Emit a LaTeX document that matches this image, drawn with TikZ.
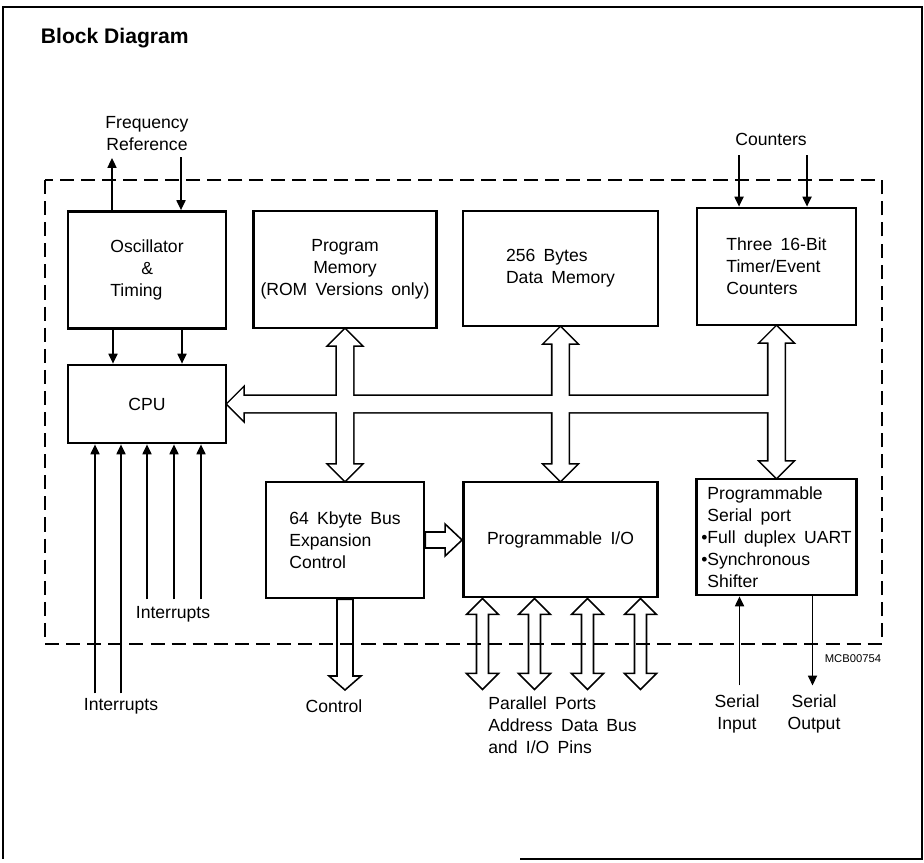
\documentclass[tikz,border=0pt]{standalone}
\usepackage{fontspec}
\setmainfont{Liberation Sans}[WordSpace=1.7]
\newfontfamily\headfont{Liberation Sans}
\usetikzlibrary{arrows.meta,calc,backgrounds}

% hollow bus arrows (picture units = pixels of the sheet)
\newcommand{\dblbus}[3]{(#1) -- ($(#1)+(16,16)$) -- ($(#1)+(#3,16)$) -- ($(#2)+(#3,-16)$)
  -- ($(#2)+(16,-16)$) -- (#2) -- ($(#2)+(-16,-16)$) -- ($(#2)+(-#3,-16)$)
  -- ($(#1)+(-#3,16)$) -- ($(#1)+(-16,16)$) -- cycle}
\newcommand{\downbus}[2]{($(#1)+(-8,0)$) -- ($(#2)+(-8,-14)$) -- ($(#2)+(-16,-14)$) -- (#2)
  -- ($(#2)+(16,-14)$) -- ($(#2)+(8,-14)$) -- ($(#1)+(8,0)$) -- cycle}
\newcommand{\leftbus}[2]{(#1) -- ($(#1)+(16,-16)$) -- ($(#1)+(16,-8)$) -- ($(#2)+(0,-8)$)
  -- ($(#2)+(0,8)$) -- ($(#1)+(16,8)$) -- ($(#1)+(16,16)$) -- cycle}
\newcommand{\rightbus}[2]{($(#1)+(0,-8)$) -- ($(#2)+(-17,-8)$) -- ($(#2)+(-17,-16)$) -- (#2)
  -- ($(#2)+(-17,16)$) -- ($(#2)+(-17,8)$) -- ($(#1)+(0,8)$) -- cycle}

\begin{document}
\begin{tikzpicture}[
  x=0.025cm, y=-0.025cm,
  font=\fontsize{12.5}{15.6}\selectfont, >={Triangle[length=7pt,width=6.5pt]},
  blk/.style={draw, line width=2pt, align=center, inner sep=2pt},
  sig/.style={->, line width=0.9pt},
  busline/.style={line width=2.2pt, line join=miter},
  port/.style={line width=1.1pt, line join=miter},
  cut/.style={line width=0.8pt, dash pattern=on 10pt off 5pt},
  lbl/.style={align=center, inner sep=0pt},
]
\useasboundingbox (0,0) rectangle (924,862);
% sheet frame
\draw[line width=0.8pt] (520,859) -- (922,859) -- (922,7) -- (3,7) -- (3,859);
\node[anchor=west, font=\headfont\bfseries\fontsize{15}{17}\selectfont] (title) at (36,38) {Block Diagram};

% blocks
\node[blk, minimum width=3.95cm, minimum height=2.925cm, align=left] (osc) at (147,270)
  {Oscillator\\\hspace*{22pt}\&\\Timing};
\node[blk, minimum width=4.575cm, minimum height=2.925cm] (pm) at (345,269.5)
  {Program\\Memory\\(ROM Versions only)};
\node[blk, minimum width=4.875cm, minimum height=2.875cm, align=left] (dm) at (560.5,268.5)
  {256 Bytes\\Data Memory};
\node[blk, minimum width=3.975cm, minimum height=2.925cm, align=left] (tc) at (776.5,266.5)
  {Three 16-Bit\\Timer/Event\\Counters};
\node[blk, minimum width=3.95cm, minimum height=1.95cm] (cpu) at (147,404) {CPU};
\node[blk, minimum width=3.95cm, minimum height=2.9cm, align=left] (bx) at (345,540)
  {64 Kbyte Bus\\Expansion\\Control};
\node[blk, minimum width=4.85cm, minimum height=2.875cm] (pio) at (560.5,539.5) {Programmable I/O};
\node[blk, minimum width=4.0cm, minimum height=2.9cm, align=left] (sp) at (776.5,537)
  {\phantom{•}Programmable\\\phantom{•}Serial port\\•Full duplex UART\\•Synchronous\\\phantom{•}Shifter};

% internal bus: outlines first, then white fill so the crossings stay open
\begin{scope}[on background layer]
\draw[busline] \leftbus{cpu.east}{cpu.east -| tc.south};
\draw[busline] \dblbus{pm.south}{bx.north}{8};
\draw[busline] \dblbus{dm.south}{pio.north}{8};
\draw[busline] \dblbus{tc.south}{sp.north}{8};
\fill[white] \leftbus{cpu.east}{cpu.east -| tc.south};
\fill[white] \dblbus{pm.south}{bx.north}{8};
\fill[white] \dblbus{dm.south}{pio.north}{8};
\fill[white] \dblbus{tc.south}{sp.north}{8};
\end{scope}

\draw[cut] (45,180) rectangle (882,644);

\draw[port] \rightbus{bx.east}{bx.east -| pio.west};
\coordinate (ctltip) at (345,690);
\draw[port] \downbus{bx.south}{ctltip};
\foreach \dx [count=\i] in {-78,-26,27,80} {
  \coordinate (pt\i) at ($(pio.south)+(\dx,0)$);
  \coordinate (pb\i) at ($(pio.south)+(\dx,91)$);
  \draw[port] \dblbus{pt\i}{pb\i}{6};
}

% signal lines
\coordinate (fout) at (112,158);
\coordinate (fin) at (181,157);
\draw[sig] (osc.north -| fout) -- (fout);
\draw[sig] (fin) -- (osc.north -| fin);
\foreach \dx in {-34,35}
  \draw[sig] ($(osc.south)+(\dx,0)$) -- ($(cpu.north)+(\dx,0)$);
\foreach \xx in {739,807} {
  \coordinate (cin) at (\xx,155);
  \draw[sig] (cin) -- (tc.north -| cin);
}
\foreach \dx/\ll in {-52/249,-26/249,0/155,27/155,54/155}
  \draw[sig] ($(cpu.south)+(\dx,\ll)$) -- ($(cpu.south)+(\dx,0)$);
\draw[sig] ($(sp.south)+(-37,89)$) -- ($(sp.south)+(-37,0)$);
\draw[sig] ($(sp.south)+(36,0)$) -- ($(sp.south)+(36,89)$);

% labels
\node[lbl] (frq) at (147,134) {Frequency\\Reference};
\node[lbl] (cnt) at (771,139) {Counters};
\node[lbl] (irqin) at (173,614) {Interrupts};
\node[lbl] (irqout) at (121,706) {Interrupts};
\node[lbl] (ctl) at (334,706) {Control};
\node[lbl, align=left, anchor=west] (ppl) at (488,725) {Parallel Ports\\Address Data Bus\\and I/O Pins};
\node[lbl] (sin) at (737,714) {Serial\\Input};
\node[lbl] (sout) at (814,714) {Serial\\Output};
\node[lbl, font=\fontsize{8}{9}\selectfont] (mcb) at (853,659) {MCB00754};
\end{tikzpicture}
\end{document}
